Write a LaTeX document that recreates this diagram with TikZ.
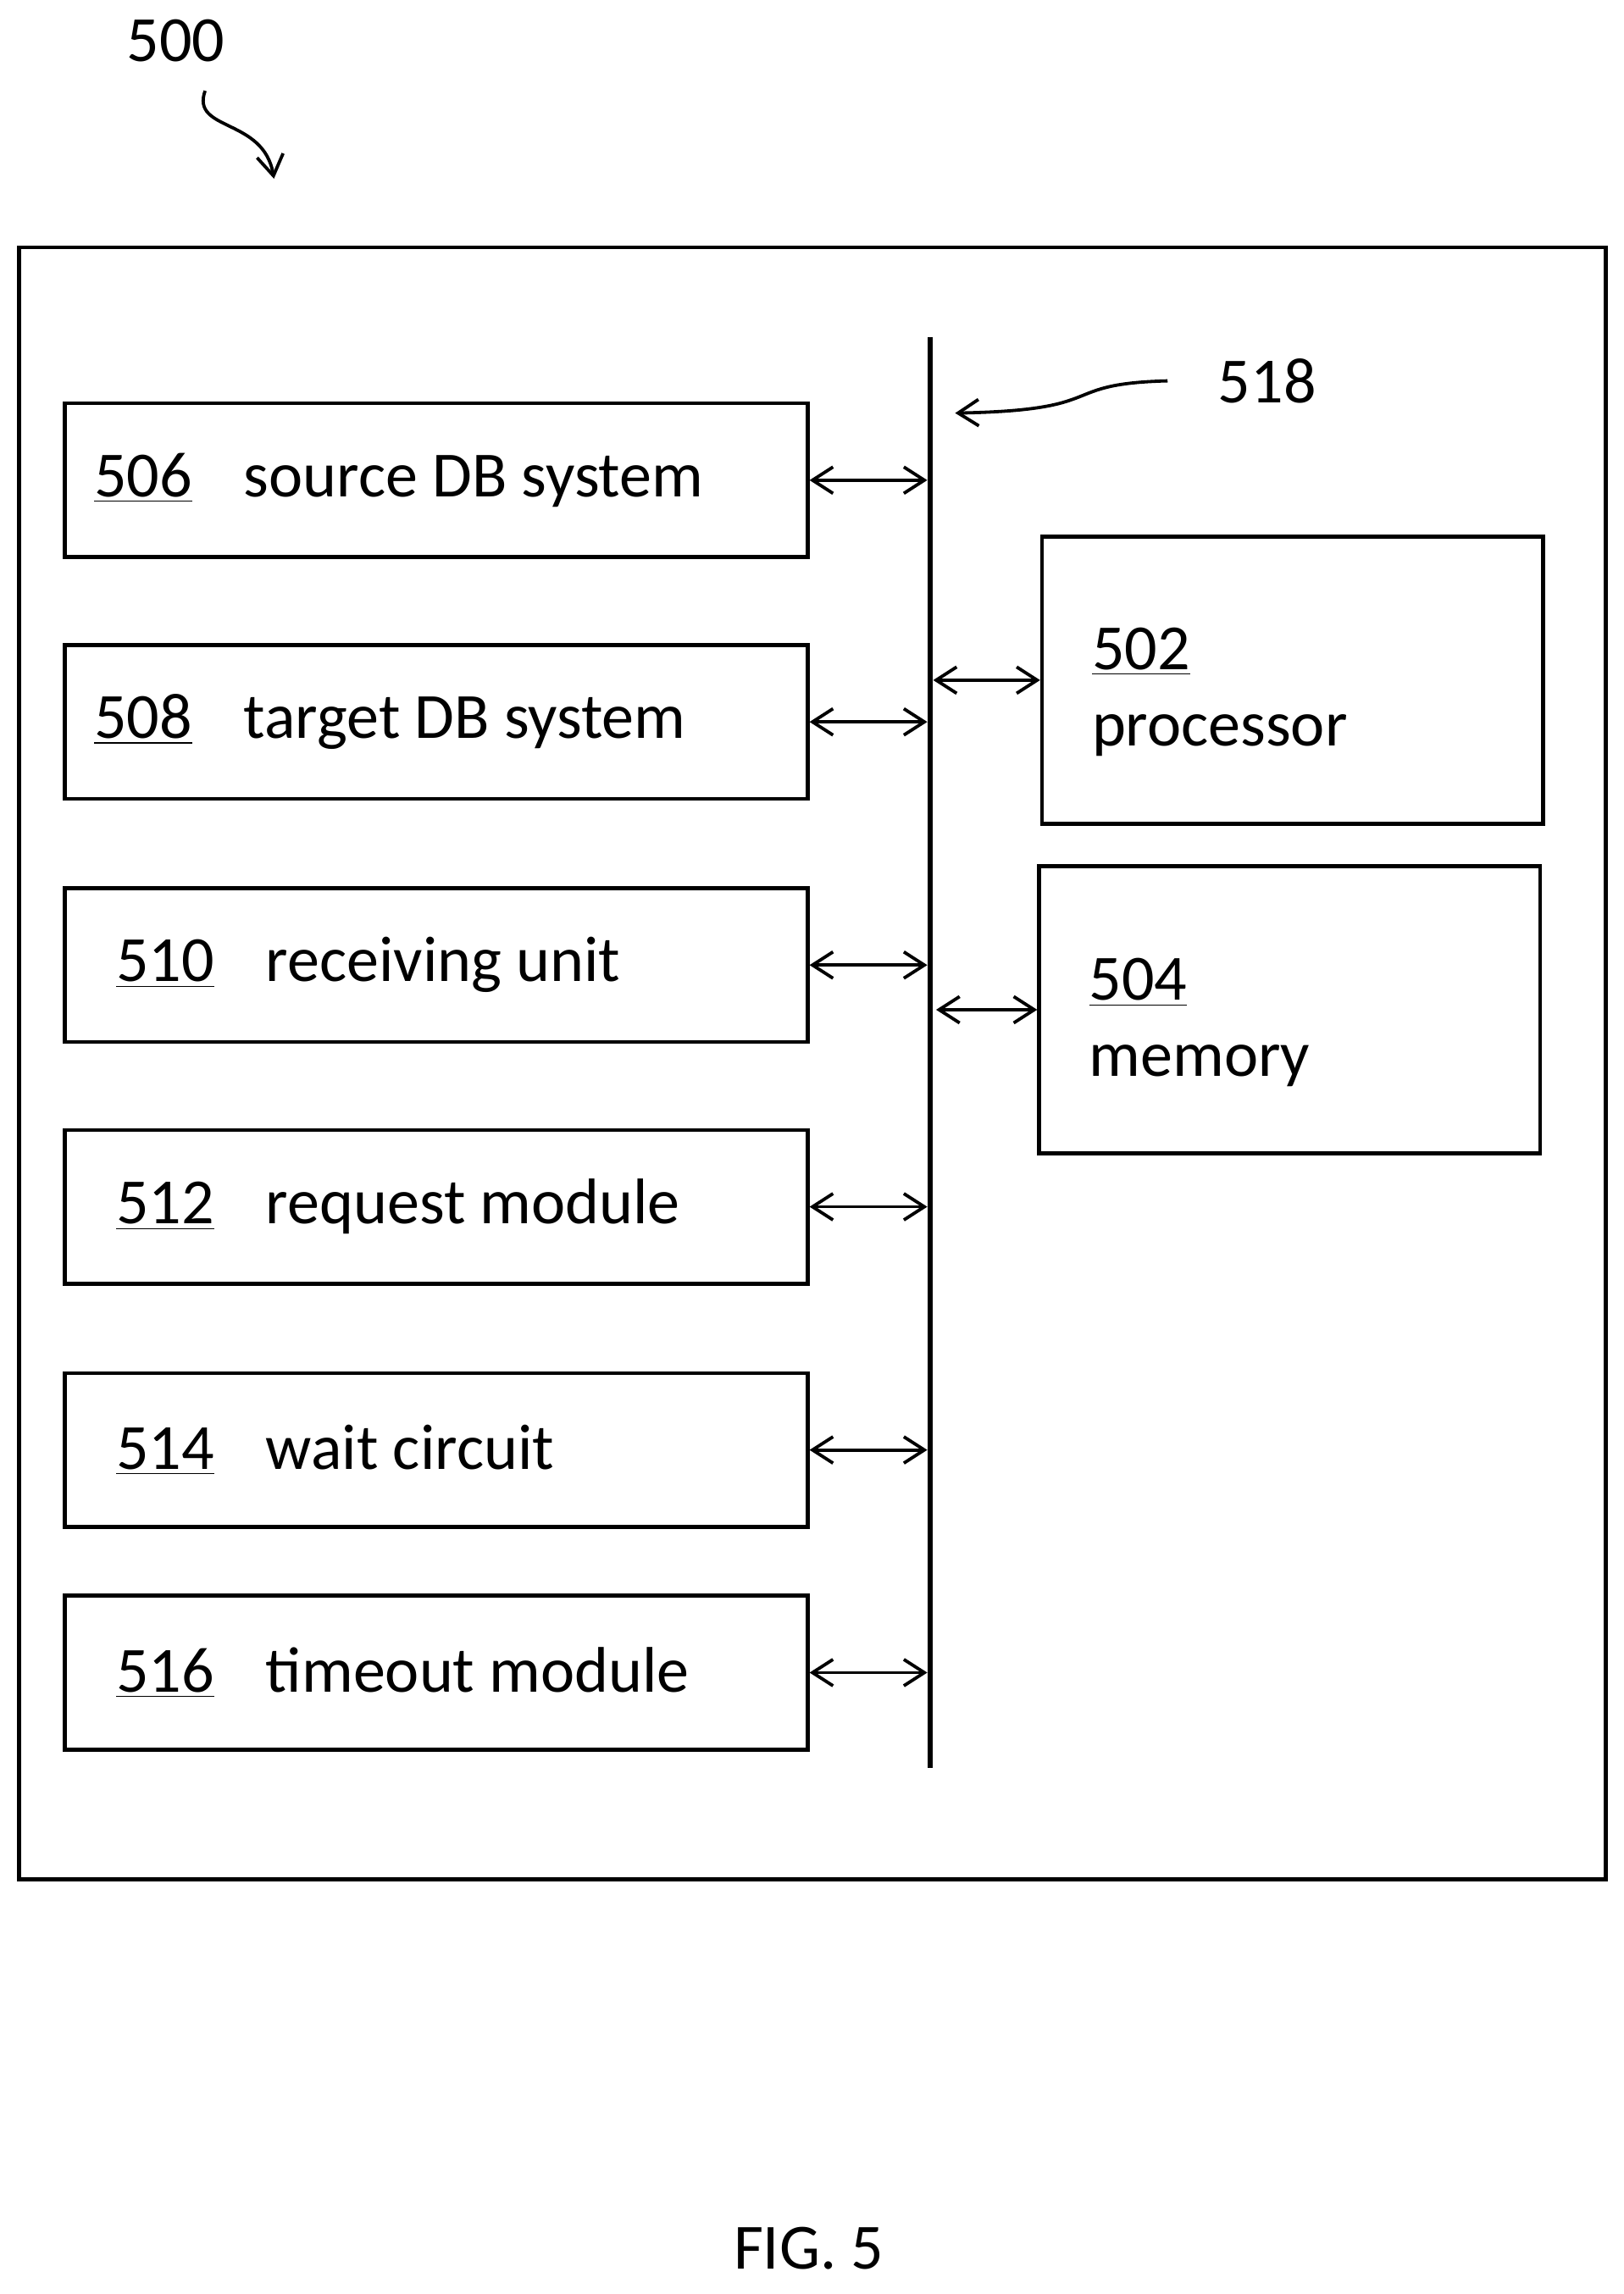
\documentclass[tikz,border=0pt]{standalone}
\usepackage{fontspec}
\setmainfont{Carlito}
\usetikzlibrary{arrows.meta}
\begin{document}
\begin{tikzpicture}[x=0.5pt,y=-0.5pt,
  box/.style={draw,line width=1.3pt},
  lbl/.style={font=\fontsize{22}{26}\selectfont,anchor=west,inner sep=0pt},
  biarrow/.style={{Straight Barb[length=7pt,width=9pt]}-{Straight Barb[length=7pt,width=9pt]},line width=1.1pt}]
\useasboundingbox (0,0) rectangle (1108,1566);
\draw[box] (13,169) rectangle (1096,1283);
\coordinate (bt) at (635,230); \coordinate (bb) at (635,1207);
\draw[line width=1.5pt] (bt) -- (bb);
\foreach \n/\y/\t/\off in {506/274/source DB system/0,508/439/target DB system/0,510/605/receiving unit/15,512/770/request module/15,514/936/wait circuit/15,516/1088/timeout module/15}{
  \node[box,minimum width=253.5pt,minimum height=52.5pt,inner sep=0pt,anchor=north west] (b\n) at (43,\y) {};
  \node[lbl] at ([xshift=(21+\off)*0.5pt]b\n.west) {\underline{\n}\hspace{0.8em}\t};
  \coordinate (e\n) at (b\n.east -| bt);
  \draw[biarrow] (b\n.east) -- ([xshift=-1pt]e\n);
}
\node[box,minimum width=171pt,minimum height=98pt,anchor=north west] (p) at (710,365) {};
\node[lbl,align=left,anchor=north west] at (745,428) {\underline{502}\\processor};
\node[box,minimum width=171pt,minimum height=98pt,anchor=north west] (m) at (708,590) {};
\node[lbl,align=left,anchor=north west] at (743,654) {\underline{504}\\memory};
\coordinate (pb) at (bt |- p.west); \coordinate (mb) at (bt |- m.west);
\draw[biarrow] ([xshift=1pt]pb) -- (p.west);
\draw[biarrow] ([xshift=2pt]mb) -- (m.west);
\node[lbl,anchor=center] (n518) at (865,260) {518};
\coordinate (a518) at (797,260); \coordinate (t518) at (652,282);
\draw[line width=1.1pt,-{Straight Barb[length=7pt,width=9pt]}] (a518) .. controls (720,262) and (760,280) .. (t518);
\node[lbl,anchor=center] (n500) at (120,28) {500};
\coordinate (a500) at (140,62); \coordinate (t500) at (187,122);
\draw[line width=1.1pt,-{Straight Barb[length=7pt,width=9pt]}] (a500) .. controls (130,90) and (180,80) .. (t500);
\node[lbl,anchor=center] (fig) at (552,1535) {FIG. 5};
\end{tikzpicture}
\end{document}
